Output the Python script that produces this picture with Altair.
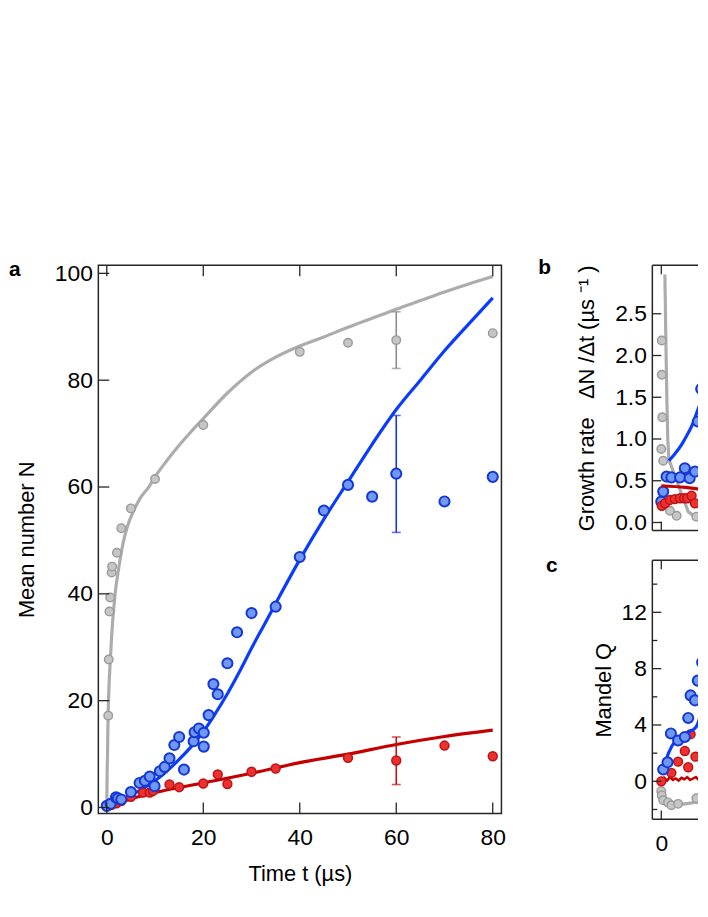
import altair as alt
import pandas as pd

# ---------------- panel a : mean number N versus time ----------------
a_gray_t = [0.3, 0.4, 0.55, 0.7, 1.0, 1.1, 2.1, 3.0, 5.0, 10, 20, 40, 50, 60, 80]
a_gray_N = [17.2, 27.7, 36.7, 39.3, 44.0, 45.1, 47.7, 52.3, 56.0, 61.5, 71.6, 85.3, 87.0, 87.5, 88.8]

a_blue_t = [0, 0.8, 1.9, 2.3, 3.0, 5.0, 6.8, 7.9, 8.9, 9.9, 11, 12, 13, 14, 15, 16, 18, 18.2,
            19.1, 20.1, 20.1, 21.1, 22.1, 23, 25, 27, 30, 35, 40, 45, 50, 55, 60, 70, 80]
a_blue_N = [0.3, 0.7, 1.9, 1.7, 1.5, 2.9, 4.6, 5.0, 5.8, 4.0, 6.8, 7.6, 9.2, 11.7, 13.2, 7.1, 12.4, 14.1,
            14.8, 14.0, 11.4, 17.3, 23.1, 21.2, 27.0, 32.8, 36.4, 37.6, 46.9, 55.6, 60.4, 58.2, 62.5, 57.3, 61.9]

a_red_t = [0, 1, 2, 3, 5, 7.5, 8.9, 9.6, 13, 15, 20, 23, 25, 30, 35, 50, 60, 70, 80]
a_red_N = [0.2, 0.5, 0.8, 1.2, 2.0, 2.8, 2.8, 3.1, 4.3, 3.8, 4.5, 6.2, 4.4, 6.7, 7.3, 9.3, 8.8, 11.6, 9.6]

a_gray_fit_t = [0, 0.05, 0.15, 0.27, 0.45, 0.76, 1.0, 1.65, 2.5, 3.4, 4.3, 5.4, 7, 8.7, 10, 12.5, 15,
                17.5, 20, 25, 30, 35, 40, 45, 50, 55, 60, 65, 70, 75, 80]
a_gray_fit_N = [0, 5, 10, 17, 22.5, 28, 32, 39.4, 45, 49.6, 52.7, 55.2, 58, 60, 61.9, 65, 67.8,
                70.4, 72.8, 77.6, 81.5, 84.3, 86.4, 88.1, 89.9, 91.6, 93.3, 94.9, 96.5, 98.0, 99.4]
a_blue_fit_t = [0, 5, 10, 15, 17.5, 20, 22.5, 25, 27.5, 30, 32.5, 35, 40, 45, 50, 55, 60, 65, 70,
                75, 80]
a_blue_fit_N = [0, 2.3, 5, 9, 11.4, 14.2, 17.6, 21.3, 25.4, 29.8, 34.0, 38.2, 46.4, 54, 61, 68,
                74.5, 80, 85.5, 90.5, 95.4]
a_red_fit_t = [0, 5, 10, 20, 30, 40, 50, 60, 70, 80]
a_red_fit_N = [0, 1.6, 2.8, 4.6, 6.4, 8.4, 10.0, 11.8, 13.3, 14.5]

a_err_t = [60]
a_gray_err = ([82.2], [92.8])
a_blue_err = ([51.5], [73.4])
a_red_err = ([4.3], [13.2])

# ---------------- panel b : growth rate (only its left edge is in view) ----------------
b_gray_t = [0.1, 0.1, 0.2, 0.0, 0.4, 1.8, 3.2, 7.3]
b_gray_v = [2.18, 1.77, 1.26, 0.88, 0.74, 0.14, 0.08, 0.07]
b_blue_t = [0, 0.4, 1.1, 2.1, 3.9, 4.9, 5.9, 7.0, 7.6, 8.3, 9.0, 9.6]
b_blue_v = [0.25, 0.37, 0.55, 0.54, 0.54, 0.65, 0.53, 0.61, 1.21, 1.60, 1.60, 0.78]
b_red_t = [0.1, 0.8, 1.8, 2.8, 3.9, 4.75, 5.4, 6.3, 7.0, 8.7]
b_red_v = [0.20, 0.23, 0.27, 0.28, 0.29, 0.29, 0.29, 0.32, 0.23, 0.20]
b_gray_fit_t = [0.75, 0.95, 1.15, 1.35, 1.6, 2.5, 3.5, 4.5, 5.6, 7, 9, 12]
b_gray_fit_v = [2.97, 2.2, 1.5, 1.0, 0.75, 0.61, 0.45, 0.30, 0.13, 0.07, 0.05, 0.04]
b_blue_fit_t = [1.6, 2.5, 4.2, 5.2, 6.3, 7.6, 8.7, 9.5, 10.5]
b_blue_fit_v = [0.74, 0.80, 0.93, 1.03, 1.15, 1.35, 1.52, 1.68, 1.85]
b_red_fit_t = [0, 5, 9.5, 12]
b_red_fit_v = [0.44, 0.42, 0.39, 0.38]

# ---------------- panel c : Mandel Q (only its left edge is in view) ----------------
c_gray_t = [0, 0.1, 0.4, 1.4, 2.1, 3.5, 7.3]
c_gray_v = [-0.7, -1.0, -1.35, -1.5, -1.7, -1.6, -1.2]
c_blue_t = [0.4, 1.3, 2.0, 3.5, 4.9, 5.6, 6.1, 7.0, 7.6, 8.5, 9.0, 9.2]
c_blue_v = [0.84, 1.35, 3.4, 2.9, 3.15, 4.5, 6.1, 5.75, 7.15, 8.45, 8.15, 11.05]
c_red_t = [0, 2.1, 3.5, 4.9, 5.6, 6.1, 7.1, 9.0]
c_red_v = [0.0, 0.6, 1.4, 2.15, 1.0, 3.35, 1.75, 1.15]
c_gray_fit_t = [0, 0.5, 1, 2, 3, 5, 7, 9, 12]
c_gray_fit_v = [-0.6, -1.0, -1.3, -1.55, -1.65, -1.6, -1.5, -1.45, -1.45]
c_blue_fit_t = [0.4, 1.5, 3, 4.5, 5.6, 6.8, 7.6, 8.2, 8.7, 9.4, 10.2]
c_blue_fit_v = [0.8, 2.0, 2.9, 3.2, 3.5, 3.7, 4.1, 4.8, 5.7, 7.3, 9.0]
c_red_fit_t = [0, 0.6, 1.2, 1.8, 2.4, 3.0, 3.6, 4.2, 4.8, 5.4, 6.0, 6.6, 7.2, 7.8, 8.4, 9.0, 9.6, 10.2]
c_red_fit_v = [-0.05, 0.25, 0.05, 0.3, 0.1, 0.2, 0.05, 0.25, 0.15, 0.3, 0.1, 0.2, 0.3, 0.1, 0.2, 0.35, 0.15, 0.2]

# ---------------- axes ----------------
x_ticks = [0, 20, 40, 60, 80]
bc_x_ticks = [0]
a_y_ticks = [0, 20, 40, 60, 80, 100]
b_y_ticks = [0, 0.5, 1.0, 1.5, 2.0, 2.5]
c_y_ticks = [0, 4, 8, 12]
c_y_minor = [-2, 2, 6, 10, 14]

A_X_DOM = [-1.75, 81.8]
BC_X_DOM = [-1.86, 7.64]      # the visible slice of panels b and c
A_Y_DOM = [-1.1, 101.5]
B_Y_DOM = [-0.095, 3.08]
C_Y_DOM = [-2.7, 15.7]

FONT = "Liberation Sans"
INK = "#262626"
GRAY_FILL, GRAY_STROKE, GRAY_LINE, GRAY_ERR = "#c6c6c6", "#9a9a9a", "#acacac", "#8c8c8c"
BLUE_FILL, BLUE_STROKE, BLUE_LINE = "#7098f7", "#1538d2", "#0a3cff"
RED_FILL, RED_STROKE, RED_LINE = "#ee3030", "#bb1414", "#c40000"

A_W, A_H = 406, 552
B_W, B_H = 46, 267
C_W, C_H = 46, 261

SZ_GRAY, SZ_RED, SZ_BLUE = 74, 80, 104


def xenc(dom, axis):
    return alt.X("t:Q", scale=alt.Scale(domain=dom, nice=False, zero=False), axis=axis)


def yenc(dom, axis):
    return alt.Y("v:Q", scale=alt.Scale(domain=dom, nice=False, zero=False), axis=axis)


def line_layer(t, v, color, X, Y, width=3.2, clip=False, interp="monotone"):
    df = pd.DataFrame({"t": t, "v": v})
    return alt.Chart(df).mark_line(color=color, strokeWidth=width, clip=clip,
                                   interpolate=interp).encode(x=X, y=Y)


def point_layer(t, v, fill, stroke, size, sw, X, Y, clip=False):
    df = pd.DataFrame({"t": t, "v": v})
    return alt.Chart(df).mark_circle(size=size, color=fill, stroke=stroke, strokeWidth=sw,
                                     opacity=1, clip=clip).encode(x=X, y=Y)


def errbar_layers(t, lo, hi, color, X, Y):
    df = pd.DataFrame({"t": t, "v": lo, "v2": hi})
    rule = alt.Chart(df).mark_rule(color=color, strokeWidth=1.6).encode(x=X, y=Y, y2="v2:Q")
    caps = pd.DataFrame({"t": list(t) + list(t), "v": list(lo) + list(hi)})
    cap = alt.Chart(caps).mark_tick(orient="horizontal", color=color, size=9,
                                    thickness=1.6).encode(x=X, y=Y)
    return [rule, cap]


def frame_ticks(X, Y, xt, yt, H, L, minor=None, Lm=5):
    out = []
    dy = pd.DataFrame({"v": yt})
    out.append(alt.Chart(dy).mark_rule(color=INK, strokeWidth=1.3).encode(
        y=Y, x=alt.value(0), x2=alt.value(L)))
    if minor:
        dm = pd.DataFrame({"v": minor})
        out.append(alt.Chart(dm).mark_rule(color=INK, strokeWidth=1.3).encode(
            y=Y, x=alt.value(0), x2=alt.value(Lm)))
    dx = pd.DataFrame({"t": xt})
    out.append(alt.Chart(dx).mark_rule(color=INK, strokeWidth=1.3).encode(
        x=X, y=alt.value(0), y2=alt.value(L)))
    out.append(alt.Chart(dx).mark_rule(color=INK, strokeWidth=1.3).encode(
        x=X, y=alt.value(H), y2=alt.value(H - L)))
    return out


def open_frame(W, H):
    # left, top and bottom sides of a panel whose right side is cut off by the page edge
    one = pd.DataFrame({"k": [0]})
    base = alt.Chart(one).mark_rule(color=INK, strokeWidth=1.5)
    return [
        base.encode(x=alt.value(0), y=alt.value(0), y2=alt.value(H)),
        base.encode(y=alt.value(0), x=alt.value(0), x2=alt.value(W)),
        base.encode(y=alt.value(H), x=alt.value(0), x2=alt.value(W)),
    ]


def letter(ch, dx, dy):
    return alt.Chart(pd.DataFrame({"s": [ch]})).mark_text(
        font=FONT, fontSize=21, fontWeight="bold", align="left", baseline="alphabetic",
        color="black").encode(text="s:N", x=alt.value(dx), y=alt.value(dy))


# ---------------- panel a ----------------
ax_a_x = alt.Axis(values=x_ticks, title="Time t (µs)", format="d", labelPadding=13,
                  titlePadding=15, labelFlush=False)
ax_a_y = alt.Axis(values=a_y_ticks, title="Mean number N", format="d", labelPadding=6,
                  titlePadding=16)
XA = xenc(A_X_DOM, ax_a_x)
YA = yenc(A_Y_DOM, ax_a_y)

layers_a = [
    line_layer(a_gray_fit_t, a_gray_fit_N, GRAY_LINE, XA, YA),
    line_layer(a_red_fit_t, a_red_fit_N, RED_LINE, XA, YA),
    line_layer(a_blue_fit_t, a_blue_fit_N, BLUE_LINE, XA, YA),
]
layers_a += errbar_layers(a_err_t, *a_gray_err, GRAY_ERR, XA, YA)
layers_a += errbar_layers(a_err_t, *a_blue_err, BLUE_STROKE, XA, YA)
layers_a += errbar_layers(a_err_t, *a_red_err, RED_STROKE, XA, YA)
layers_a += [
    point_layer(a_gray_t, a_gray_N, GRAY_FILL, GRAY_STROKE, SZ_GRAY, 1.4, XA, YA),
    point_layer(a_red_t, a_red_N, RED_FILL, RED_STROKE, SZ_RED, 1.5, XA, YA),
    point_layer(a_blue_t, a_blue_N, BLUE_FILL, BLUE_STROKE, SZ_BLUE, 2.0, XA, YA),
]
layers_a += frame_ticks(XA, YA, x_ticks, a_y_ticks, A_H, 11)
layers_a.append(letter("a", -90, 11))
panel_a = alt.layer(*layers_a).properties(width=A_W, height=A_H)

# ---------------- panel b ----------------
ax_b_y = alt.Axis(values=b_y_ticks,
                  title="Growth rate\u00a0\u00a0 ΔN\u00a0/Δt\u00a0(µs\u00a0⁻¹\u00a0)",
                  format=".1f", labelPadding=6, titlePadding=16)
XB = xenc(BC_X_DOM, None)
YB = yenc(B_Y_DOM, ax_b_y)
layers_b = [
    line_layer(b_gray_fit_t, b_gray_fit_v, GRAY_LINE, XB, YB, clip=True, interp="linear"),
    line_layer(b_blue_fit_t, b_blue_fit_v, BLUE_LINE, XB, YB, clip=True),
    point_layer(b_blue_t, b_blue_v, BLUE_FILL, BLUE_STROKE, SZ_BLUE, 2.0, XB, YB, clip=True),
    line_layer(b_red_fit_t, b_red_fit_v, RED_LINE, XB, YB, clip=True),
    point_layer(b_gray_t, b_gray_v, GRAY_FILL, GRAY_STROKE, SZ_GRAY, 1.4, XB, YB, clip=True),
    point_layer(b_red_t, b_red_v, RED_FILL, RED_STROKE, SZ_RED, 1.5, XB, YB, clip=True),
]
layers_b += open_frame(B_W, B_H)
layers_b += frame_ticks(XB, YB, bc_x_ticks, b_y_ticks, B_H, 9)
layers_b.append(letter("b", -115, 9))
panel_b = alt.layer(*layers_b).properties(
    width=B_W, height=B_H, view=alt.ViewBackground(stroke="transparent"))

# ---------------- panel c ----------------
ax_c_x = alt.Axis(values=bc_x_ticks, title="", format="d", labelPadding=13, labelFlush=False)
ax_c_y = alt.Axis(values=c_y_ticks, title="Mandel Q", format="d", labelPadding=6,
                  titlePadding=6)
XC = xenc(BC_X_DOM, ax_c_x)
YC = yenc(C_Y_DOM, ax_c_y)
layers_c = [
    line_layer(c_gray_fit_t, c_gray_fit_v, GRAY_LINE, XC, YC, clip=True),
    line_layer(c_red_fit_t, c_red_fit_v, RED_LINE, XC, YC, 2.5, clip=True, interp="linear"),
    point_layer(c_gray_t, c_gray_v, GRAY_FILL, GRAY_STROKE, SZ_GRAY, 1.4, XC, YC, clip=True),
    point_layer(c_red_t, c_red_v, RED_FILL, RED_STROKE, SZ_RED, 1.5, XC, YC, clip=True),
    line_layer(c_blue_fit_t, c_blue_fit_v, BLUE_LINE, XC, YC, clip=True),
    point_layer(c_blue_t, c_blue_v, BLUE_FILL, BLUE_STROKE, SZ_BLUE, 2.0, XC, YC, clip=True),
]
layers_c += open_frame(C_W, C_H)
layers_c += frame_ticks(XC, YC, bc_x_ticks, c_y_ticks, C_H, 9, minor=c_y_minor, Lm=5)
layers_c.append(letter("c", -107, 12))
panel_c = alt.layer(*layers_c).properties(
    width=C_W, height=C_H, view=alt.ViewBackground(stroke="transparent"))

chart = alt.hconcat(
    panel_a,
    alt.vconcat(panel_b, panel_c, spacing=19),
    spacing=31,
).properties(
    padding={"left": 0, "top": 247, "right": 0, "bottom": 5}
).configure_view(
    stroke=INK, strokeWidth=1.5
).configure_axis(
    labelFont=FONT, titleFont=FONT, labelFontSize=23, titleFontSize=22,
    labelColor="black", titleColor="black", titleFontWeight="normal",
    grid=False, ticks=False, domain=False
)

chart.save("out.html", embed_options={"renderer": "svg", "actions": False})
